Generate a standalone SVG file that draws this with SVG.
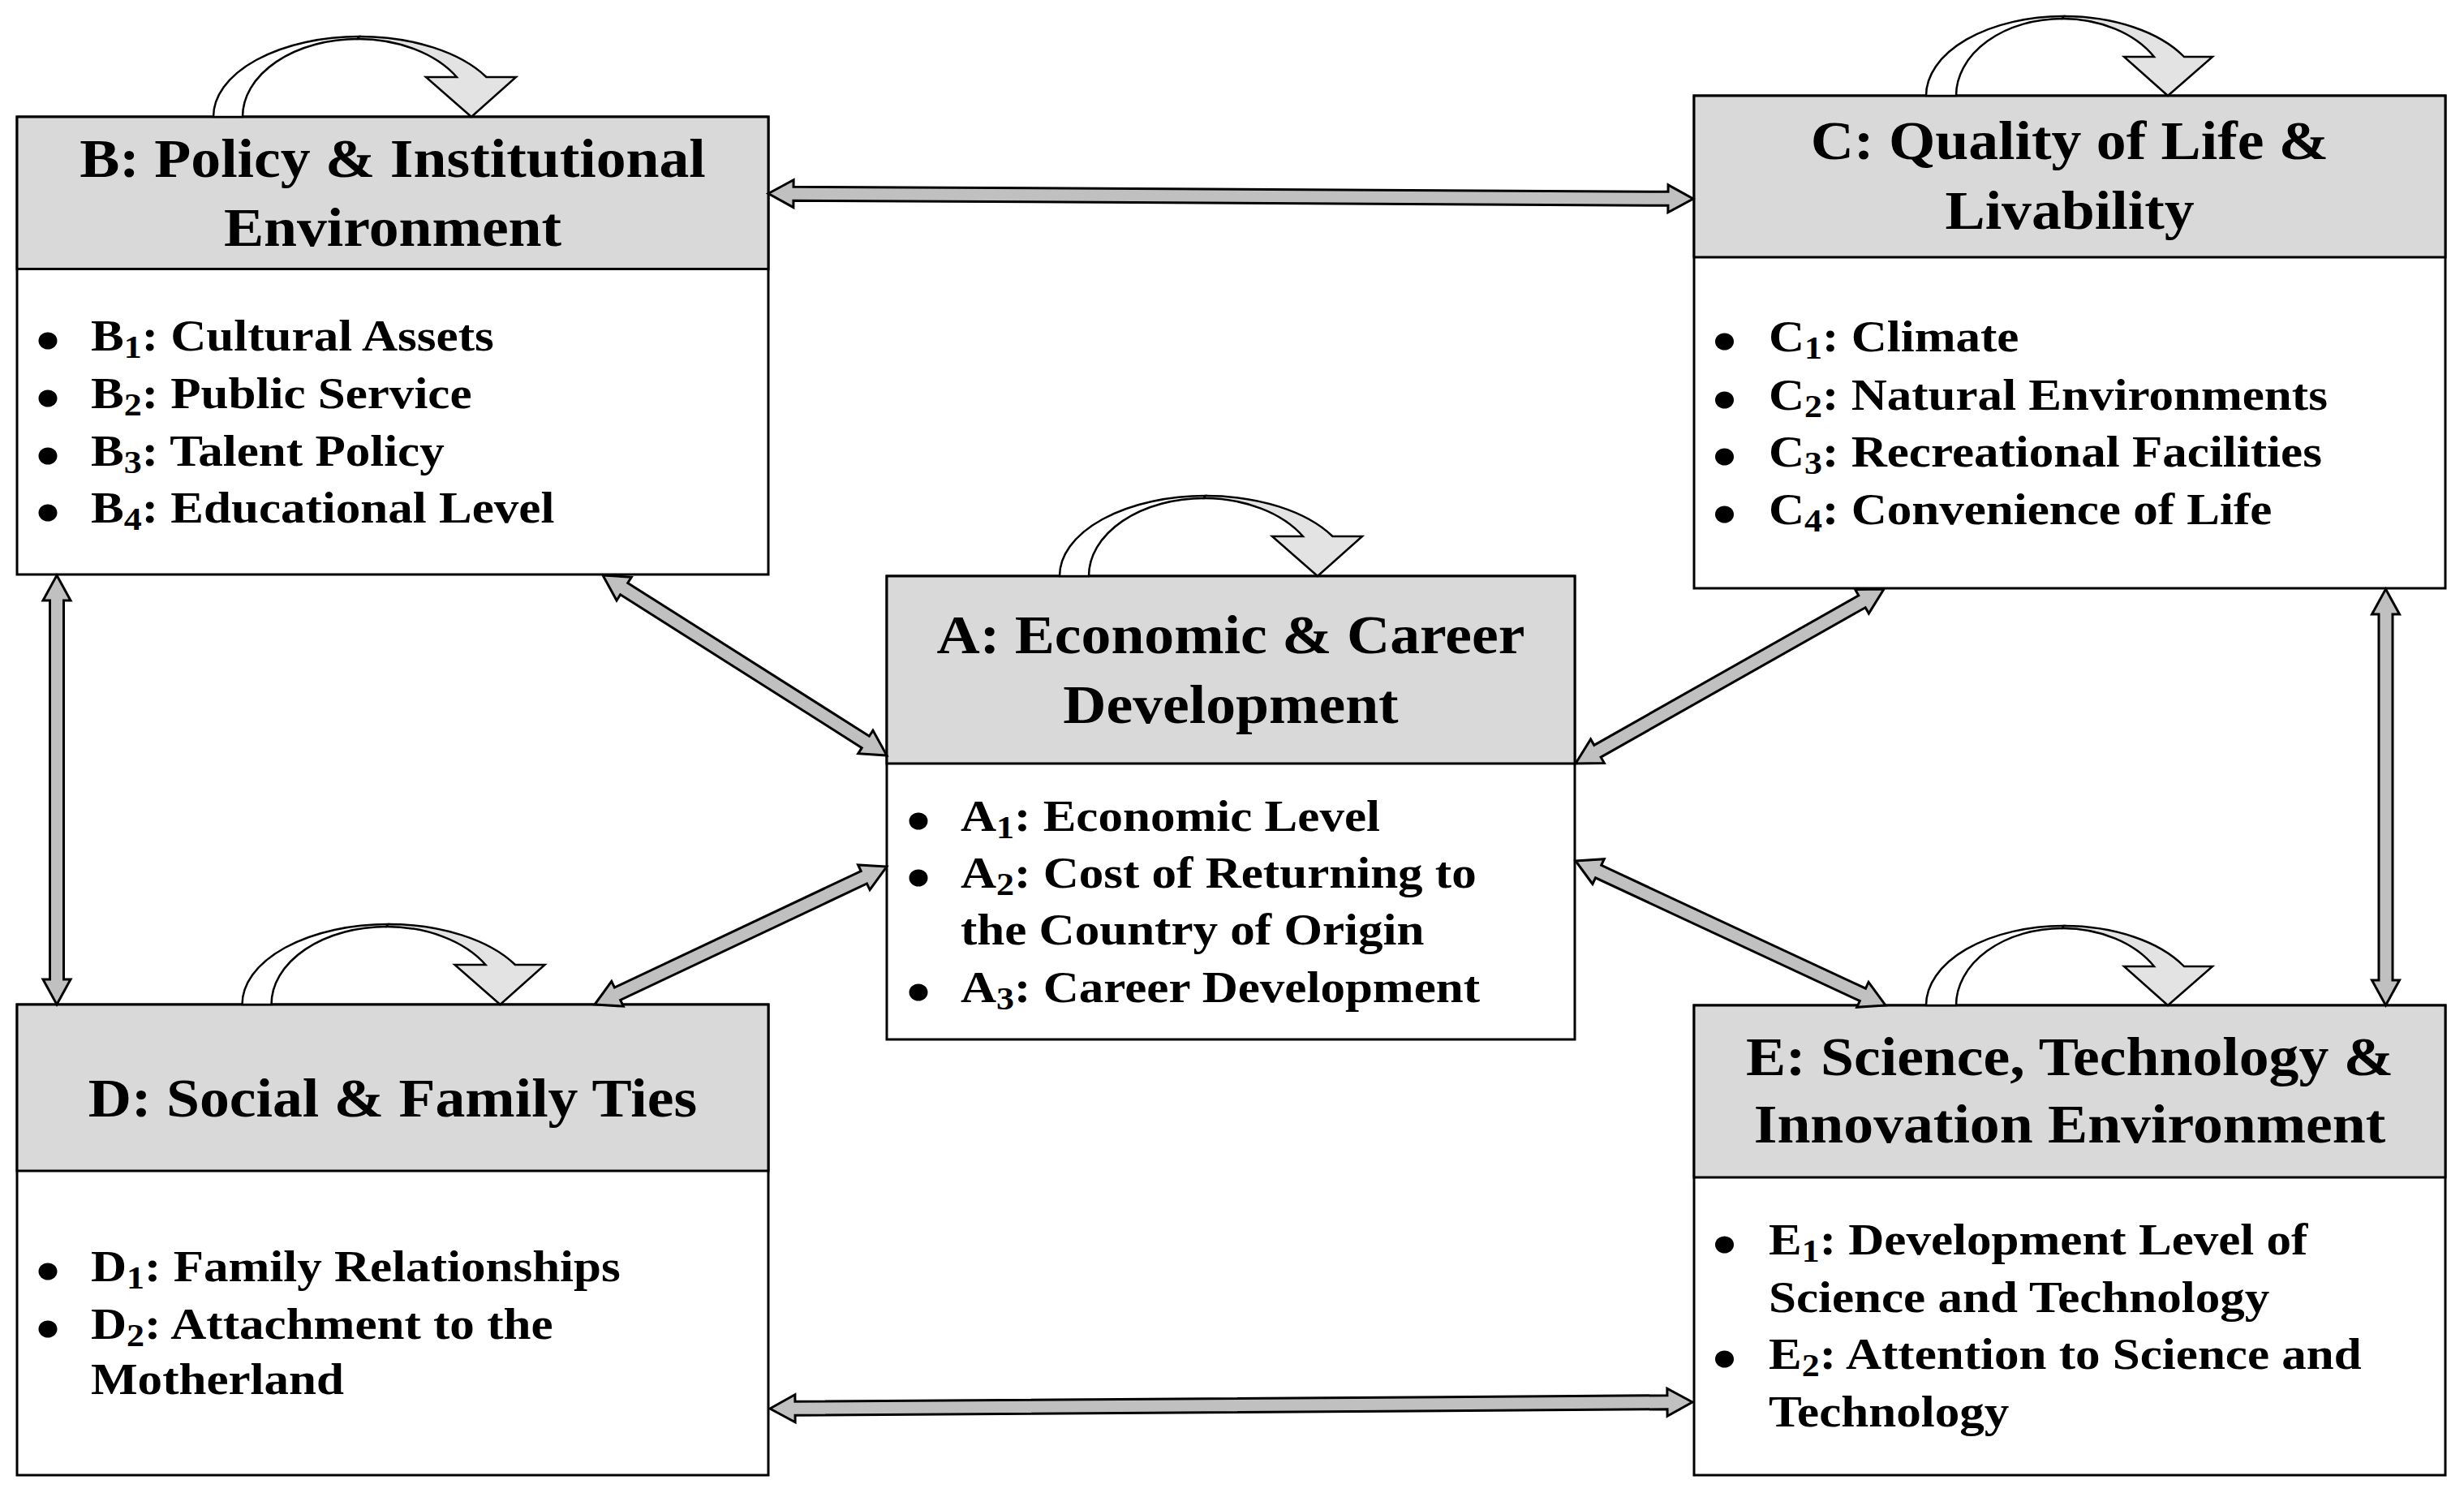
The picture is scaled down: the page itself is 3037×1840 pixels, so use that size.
<svg xmlns="http://www.w3.org/2000/svg" xmlns:xlink="http://www.w3.org/1999/xlink" width="3037" height="1840" viewBox="0 0 3037 1840">
<style>
.box{fill:#ffffff;stroke:#000;stroke-width:3}
.hdr{fill:#d9d9d9;stroke:#000;stroke-width:3}
.t{font-family:"Liberation Serif","Times New Roman",serif;font-weight:bold;fill:#000}
.title{font-size:67px;text-anchor:middle}
.item{font-size:55.5px}
.sub{font-size:40px}
.dot{fill:#000}
.arr{fill:#c0c0c0;stroke:#000;stroke-width:3;stroke-linejoin:miter}
.lb{fill:#ffffff;stroke:#000;stroke-width:2.5}
.lf{fill:#e3e3e3;stroke:#000;stroke-width:2.5;stroke-linejoin:miter}
</style>
<defs>
<g id="loopL">
<path class="lb" d="M0,0 A180,99 0 0 1 180,-99 L178,-96 A142,96 0 0 0 36,0 Z"/>
<path class="lf" d="M180,-99 A180,99 0 0 1 336.5,-49 L373,-49 L318,0 L262,-49 L300,-49 A142,96 0 0 0 178,-96 Z"/>
</g>
<g id="loopS">
<path class="lb" d="M0,0 A170,98 0 0 1 170,-98 L168,-95 A131,95 0 0 0 37,0 Z"/>
<path class="lf" d="M170,-98 A170,98 0 0 1 318,-48 L353,-48 L298,0 L244,-48 L281,-48 A131,95 0 0 0 168,-95 Z"/>
</g>
</defs>
<rect width="3037" height="1840" fill="#ffffff"/>

<g id="node-B">
<rect class="box" x="21" y="144" width="926" height="564"/>
<rect class="hdr" x="21" y="144" width="926" height="187.5"/>
<text class="t title" transform="translate(484 218) scale(1.1 1)">B: Policy &amp; Institutional</text>
<text class="t title" transform="translate(484 303) scale(1.1 1)">Environment</text>
<ellipse class="dot" cx="59" cy="420" rx="11.5" ry="10.5"/>
<ellipse class="dot" cx="59" cy="491" rx="11.5" ry="10.5"/>
<ellipse class="dot" cx="59" cy="562" rx="11.5" ry="10.5"/>
<ellipse class="dot" cx="59" cy="632" rx="11.5" ry="10.5"/>
<text class="t item" transform="translate(112 432) scale(1.1 1)">B<tspan class="sub" dy="9">1</tspan><tspan dy="-9">: Cultural Assets</tspan></text>
<text class="t item" transform="translate(112 503) scale(1.1 1)">B<tspan class="sub" dy="9">2</tspan><tspan dy="-9">: Public Service</tspan></text>
<text class="t item" transform="translate(112 574) scale(1.1 1)">B<tspan class="sub" dy="9">3</tspan><tspan dy="-9">: Talent Policy</tspan></text>
<text class="t item" transform="translate(112 644) scale(1.1 1)">B<tspan class="sub" dy="9">4</tspan><tspan dy="-9">: Educational Level</tspan></text>
</g>

<g id="node-C">
<rect class="box" x="2088" y="118" width="926" height="607"/>
<rect class="hdr" x="2088" y="118" width="926" height="199"/>
<text class="t title" transform="translate(2551 196) scale(1.1 1)">C: Quality of Life &amp;</text>
<text class="t title" transform="translate(2551 282) scale(1.1 1)">Livability</text>
<ellipse class="dot" cx="2125.5" cy="421" rx="11.5" ry="10.5"/>
<ellipse class="dot" cx="2125.5" cy="493" rx="11.5" ry="10.5"/>
<ellipse class="dot" cx="2125.5" cy="563" rx="11.5" ry="10.5"/>
<ellipse class="dot" cx="2125.5" cy="634" rx="11.5" ry="10.5"/>
<text class="t item" transform="translate(2180 433) scale(1.1 1)">C<tspan class="sub" dy="9">1</tspan><tspan dy="-9">: Climate</tspan></text>
<text class="t item" transform="translate(2180 505) scale(1.1 1)">C<tspan class="sub" dy="9">2</tspan><tspan dy="-9">: Natural Environments</tspan></text>
<text class="t item" transform="translate(2180 575) scale(1.1 1)">C<tspan class="sub" dy="9">3</tspan><tspan dy="-9">: Recreational Facilities</tspan></text>
<text class="t item" transform="translate(2180 646) scale(1.1 1)">C<tspan class="sub" dy="9">4</tspan><tspan dy="-9">: Convenience of Life</tspan></text>
</g>

<g id="node-A">
<rect class="box" x="1093" y="710" width="848" height="571"/>
<rect class="hdr" x="1093" y="710" width="848" height="231"/>
<text class="t title" transform="translate(1517 804.5) scale(1.1 1)">A: Economic &amp; Career</text>
<text class="t title" transform="translate(1517 891) scale(1.1 1)">Development</text>
<ellipse class="dot" cx="1132" cy="1012" rx="11.5" ry="10.5"/>
<ellipse class="dot" cx="1132" cy="1082" rx="11.5" ry="10.5"/>
<ellipse class="dot" cx="1132" cy="1223" rx="11.5" ry="10.5"/>
<text class="t item" transform="translate(1184 1024) scale(1.1 1)">A<tspan class="sub" dy="9">1</tspan><tspan dy="-9">: Economic Level</tspan></text>
<text class="t item" transform="translate(1184 1094) scale(1.1 1)">A<tspan class="sub" dy="9">2</tspan><tspan dy="-9">: Cost of Returning to</tspan></text>
<text class="t item" transform="translate(1184 1164) scale(1.1 1)">the Country of Origin</text>
<text class="t item" transform="translate(1184 1235) scale(1.1 1)">A<tspan class="sub" dy="9">3</tspan><tspan dy="-9">: Career Development</tspan></text>
</g>

<g id="node-D">
<rect class="box" x="21" y="1238" width="926" height="580"/>
<rect class="hdr" x="21" y="1238" width="926" height="205"/>
<text class="t title" transform="translate(484 1376) scale(1.1 1)">D: Social &amp; Family Ties</text>
<ellipse class="dot" cx="59" cy="1567" rx="11.5" ry="10.5"/>
<ellipse class="dot" cx="59" cy="1638" rx="11.5" ry="10.5"/>
<text class="t item" transform="translate(112 1579) scale(1.1 1)">D<tspan class="sub" dy="9">1</tspan><tspan dy="-9">: Family Relationships</tspan></text>
<text class="t item" transform="translate(112 1650) scale(1.1 1)">D<tspan class="sub" dy="9">2</tspan><tspan dy="-9">: Attachment to the</tspan></text>
<text class="t item" transform="translate(112 1718) scale(1.1 1)">Motherland</text>
</g>

<g id="node-E">
<rect class="box" x="2088" y="1239" width="926" height="579"/>
<rect class="hdr" x="2088" y="1239" width="926" height="212"/>
<text class="t title" transform="translate(2551 1324.6) scale(1.1 1)">E: Science, Technology &amp;</text>
<text class="t title" transform="translate(2551 1408) scale(1.1 1)">Innovation Environment</text>
<ellipse class="dot" cx="2125.5" cy="1534" rx="11.5" ry="10.5"/>
<ellipse class="dot" cx="2125.5" cy="1675" rx="11.5" ry="10.5"/>
<text class="t item" transform="translate(2180 1546) scale(1.1 1)">E<tspan class="sub" dy="9">1</tspan><tspan dy="-9">: Development Level of</tspan></text>
<text class="t item" transform="translate(2180 1617) scale(1.1 1)">Science and Technology</text>
<text class="t item" transform="translate(2180 1687) scale(1.1 1)">E<tspan class="sub" dy="9">2</tspan><tspan dy="-9">: Attention to Science and</tspan></text>
<text class="t item" transform="translate(2180 1758) scale(1.1 1)">Technology</text>
</g>

<g id="connectors">
<path id="B-C" class="arr" transform="translate(947 238.5) rotate(0.327)" d="M0,0 L31,-17 L31,-8.5 L1109,-8.5 L1109,-17 L1140,0 L1109,17 L1109,8.5 L31,8.5 L31,17 Z"/>
<path id="D-E" class="arr" transform="translate(949 1736) rotate(-0.403)" d="M0,0 L31,-17 L31,-8.5 L1106,-8.5 L1106,-17 L1137,0 L1106,17 L1106,8.5 L31,8.5 L31,17 Z"/>
<path id="B-A" class="arr" transform="translate(743 709) rotate(32.39)" d="M0,0 L31,-17 L31,-8.5 L383.5,-8.5 L383.5,-17 L414.5,0 L383.5,17 L383.5,8.5 L31,8.5 L31,17 Z"/>
<path id="D-A" class="arr" transform="translate(733 1238) rotate(-25.28)" d="M0,0 L31,-17 L31,-8.5 L367,-8.5 L367,-17 L398,0 L367,17 L367,8.5 L31,8.5 L31,17 Z"/>
<path id="A-C" class="arr" transform="translate(1942 941) rotate(-29.5)" d="M0,0 L31,-17 L31,-8.5 L405.6,-8.5 L405.6,-17 L436.6,0 L405.6,17 L405.6,8.5 L31,8.5 L31,17 Z"/>
<path id="A-E" class="arr" transform="translate(1942 1061) rotate(24.98)" d="M0,0 L31,-17 L31,-8.5 L390.4,-8.5 L390.4,-17 L421.4,0 L390.4,17 L390.4,8.5 L31,8.5 L31,17 Z"/>
<path id="C-E" class="arr" transform="translate(2940.5 726) rotate(90)" d="M0,0 L31,-17 L31,-8.5 L482,-8.5 L482,-17 L513,0 L482,17 L482,8.5 L31,8.5 L31,17 Z"/>
<path id="B-D" class="arr" transform="translate(70 709) rotate(90)" d="M0,0 L31,-17 L31,-8.5 L498,-8.5 L498,-17 L529,0 L498,17 L498,8.5 L31,8.5 L31,17 Z"/>
<use id="loop-B" href="#loopL" transform="translate(263 144)"/>
<use id="loop-A" href="#loopL" transform="translate(1306 710)"/>
<use id="loop-D" href="#loopL" transform="translate(298.5 1238)"/>
<use id="loop-C" href="#loopS" transform="translate(2374 118)"/>
<use id="loop-E" href="#loopS" transform="translate(2374 1239)"/>
</g>
</svg>
